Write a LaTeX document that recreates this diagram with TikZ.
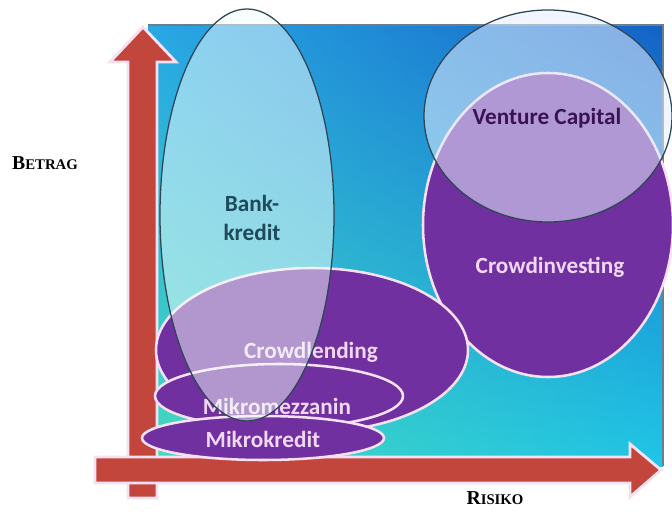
\documentclass[tikz,border=0pt]{standalone}
\usepackage{fontspec}
\setmainfont{Carlito}
\newfontfamily\capsfont{Liberation Serif}
\usepackage{xcolor}
\usepackage{tikz}
\usetikzlibrary{shadings}

\definecolor{arrowred}{HTML}{C2463C}
\definecolor{lila}{HTML}{7030A0}
\definecolor{rim}{HTML}{F6E0F4}
\definecolor{paleblue}{HTML}{E4EEFF}
\definecolor{palecyan}{HTML}{F4FFFF}
\definecolor{darkline}{HTML}{2E4656}
\definecolor{bankink}{HTML}{1E4A5A}
\definecolor{vcink}{HTML}{3A1452}
\definecolor{lilaink}{HTML}{F0D8F2}
\definecolor{fieldtl}{HTML}{28A8E4}
\definecolor{fieldtr}{HTML}{1462C6}
\definecolor{fieldbl}{HTML}{46DABA}
\definecolor{fieldbr}{HTML}{20C6E6}

\tikzset{
  bigarrow/.style={fill=arrowred, draw=rim, line width=2pt, line join=miter},
  lilablob/.style={fill=lila, draw=rim, line width=1.8pt},
  glassblob/.style={fill=#1, draw=darkline, draw opacity=1, line width=0.9pt},
  blobtext/.style={font=\fontsize{16.5}{20}\selectfont\bfseries},
  axislabel/.style={font=\capsfont\bfseries},
}

\begin{document}
\begin{tikzpicture}[x=0.025cm, y=-0.025cm]
    \useasboundingbox (0,0) rectangle (672,532);

    % Field
    \shade[upper left=fieldtl, upper right=fieldtr,
           lower left=fieldbl, lower right=fieldbr]
        (148,25) rectangle (663,466);
    \draw[darkline!70, line width=0.8pt] (148,25) -- (663,25) -- (663,466);

    % Axes
    \draw[bigarrow] (128,498) -- (128,62) -- (110,62) -- (143,27) -- (176,62)
        -- (157,62) -- (157,498) -- cycle;
    \draw[bigarrow] (95,457) -- (630,457) -- (630,444) -- (661,470) -- (630,497)
        -- (630,483) -- (95,483) -- cycle;

    % Right group
    \draw[lilablob] (548,225) ellipse [x radius=125, y radius=152];
    \node[text=lilaink, blobtext] (crowdinv) at (550,267) {Crowdinvesting};

    % Left group
    \draw[lilablob] (312,350) ellipse [x radius=156, y radius=82];
    \node[text=lilaink, blobtext] (crowdlend) at (311,352) {Crowdlending};
    \draw[lilablob] (279,396) ellipse [x radius=124, y radius=32];
    \node[text=lilaink, blobtext] (mezz) at (277,406) {Mikromezzanin};
    \draw[lilablob] (263,438) ellipse [x radius=121, y radius=22];
    \node[text=lilaink, blobtext] (mikro) at (263,439) {Mikrokredit};

    % Transparent overlays
    \draw[glassblob=palecyan, fill opacity=0.5] (247,215) ellipse [x radius=87, y radius=206];
    \node[text=bankink, align=center, blobtext] (bank) at (252,218) {Bank-\\kredit};
    \draw[glassblob=paleblue, fill opacity=0.55] (548,116) ellipse [x radius=124, y radius=106];
    \node[text=vcink, blobtext] (vc) at (547,118) {Venture Capital};

    % Axis labels
    \node[axislabel] (betrag) at (45,163) {{\fontsize{14}{16}\selectfont B}{\fontsize{10.5}{12}\selectfont ETRAG}};
    \node[axislabel] (risiko) at (495,498) {{\fontsize{14}{16}\selectfont R}{\fontsize{10.5}{12}\selectfont ISIKO}};
\end{tikzpicture}
\end{document}
